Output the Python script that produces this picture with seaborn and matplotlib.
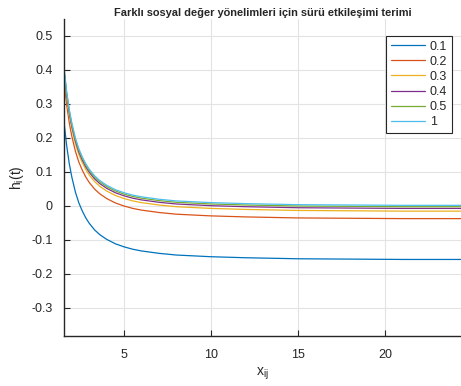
import pandas as pd
import matplotlib
matplotlib.use("Agg")
import matplotlib.pyplot as plt
import seaborn as sns

# values
x_vals = [1.55, 1.7, 1.85, 2.0, 2.2, 2.4, 2.6, 2.8, 3.0, 3.3, 3.6, 4.0,
          4.5, 5.0, 5.5, 6.0, 7.0, 8.0, 10, 12, 15, 18, 21, 24.5]
h_01 = [0.244, 0.176, 0.123, 0.083, 0.040, 0.008, -0.016, -0.036, -0.052, -0.071, -0.085, -0.099,
        -0.112, -0.121, -0.128, -0.133, -0.140, -0.145, -0.150, -0.153, -0.156, -0.157, -0.158, -0.158]
h_02 = [0.364, 0.296, 0.243, 0.203, 0.160, 0.128, 0.104, 0.084, 0.068, 0.049, 0.035, 0.021,
        0.008, -0.001, -0.008, -0.013, -0.020, -0.025, -0.030, -0.033, -0.036, -0.037, -0.038, -0.038]
h_03 = [0.386, 0.318, 0.265, 0.225, 0.182, 0.150, 0.126, 0.106, 0.090, 0.071, 0.057, 0.043,
        0.030, 0.021, 0.014, 0.009, 0.002, -0.003, -0.008, -0.011, -0.014, -0.015, -0.016, -0.016]
h_04 = [0.394, 0.326, 0.273, 0.233, 0.190, 0.158, 0.134, 0.114, 0.098, 0.079, 0.065, 0.051,
        0.038, 0.029, 0.022, 0.017, 0.010, 0.005, 0.000, -0.003, -0.006, -0.007, -0.008, -0.008]
h_05 = [0.399, 0.331, 0.278, 0.238, 0.195, 0.163, 0.139, 0.119, 0.103, 0.084, 0.070, 0.056,
        0.043, 0.034, 0.027, 0.022, 0.015, 0.010, 0.005, 0.002, -0.001, -0.002, -0.003, -0.003]
h_1 = [0.403, 0.335, 0.282, 0.242, 0.199, 0.167, 0.143, 0.123, 0.107, 0.088, 0.074, 0.060,
       0.047, 0.038, 0.031, 0.026, 0.019, 0.014, 0.009, 0.006, 0.003, 0.002, 0.001, 0.001]

labels = ["0.1", "0.2", "0.3", "0.4", "0.5", "1"]
series = [h_01, h_02, h_03, h_04, h_05, h_1]
colors = ["#0072BD", "#D95319", "#EDB120", "#7E2F8E", "#77AC30", "#4DBEEE"]

rows = []
for lab, ys in zip(labels, series):
    for x, y in zip(x_vals, ys):
        rows.append({"x": x, "h": y, "k": lab})
df = pd.DataFrame(rows)

sns.set_style("white")
plt.rcParams["font.family"] = ["Liberation Sans", "DejaVu Sans"]
plt.rcParams["axes.unicode_minus"] = False
plt.rcParams["mathtext.fontset"] = "custom"
plt.rcParams["mathtext.rm"] = "Liberation Sans"
plt.rcParams["mathtext.it"] = "Liberation Sans"

fig = plt.figure(figsize=(4.61, 3.86), dpi=100)
ax = fig.add_axes([0.139, 0.1295, 0.861, 0.8225])

sns.lineplot(data=df, x="x", y="h", hue="k", hue_order=labels,
             palette=colors, linewidth=0.9, ax=ax)

ax.set_xlim(1.55, 24.37)
ax.set_ylim(-0.383, 0.55)
ax.set_xticks([5, 10, 15, 20])
ax.set_yticks([-0.3, -0.2, -0.1, 0, 0.1, 0.2, 0.3, 0.4, 0.5])
ax.set_yticklabels(["-0.3", "-0.2", "-0.1", "0", "0.1", "0.2", "0.3", "0.4", "0.5"])
ax.grid(True, color="#e3e3e3", linewidth=0.8)
ax.set_axisbelow(True)
ax.tick_params(direction="in", length=4, width=0.8, labelsize=9,
               colors="#262626", left=True, bottom=True)
ax.tick_params(axis="x", pad=9)
ax.tick_params(axis="y", pad=8)
for side in ["top", "right"]:
    ax.spines[side].set_visible(False)
for side in ["left", "bottom"]:
    ax.spines[side].set_color("#262626")
    ax.spines[side].set_linewidth(1.0)

ax.set_title("Farklı sosyal değer yönelimleri için sürü etkileşimi terimi",
             fontsize=7.9, fontweight="bold", pad=1.5)
ax.set_xlabel(r"x$_\mathregular{ij}$", fontsize=10, color="#262626", labelpad=4)
ax.set_ylabel(r"h$_\mathregular{i}$(t)", fontsize=10, color="#262626", labelpad=4)

handles, labs = ax.get_legend_handles_labels()
leg = ax.legend(handles, labs, loc="upper right", bbox_to_anchor=(0.993, 0.966),
                fontsize=9, handlelength=2.7, handletextpad=0.4,
                labelspacing=0.25, borderpad=0.4, fancybox=False, framealpha=1)
leg.get_frame().set_edgecolor("#262626")
leg.get_frame().set_linewidth(0.8)

fig.savefig("out.png", dpi=100)
